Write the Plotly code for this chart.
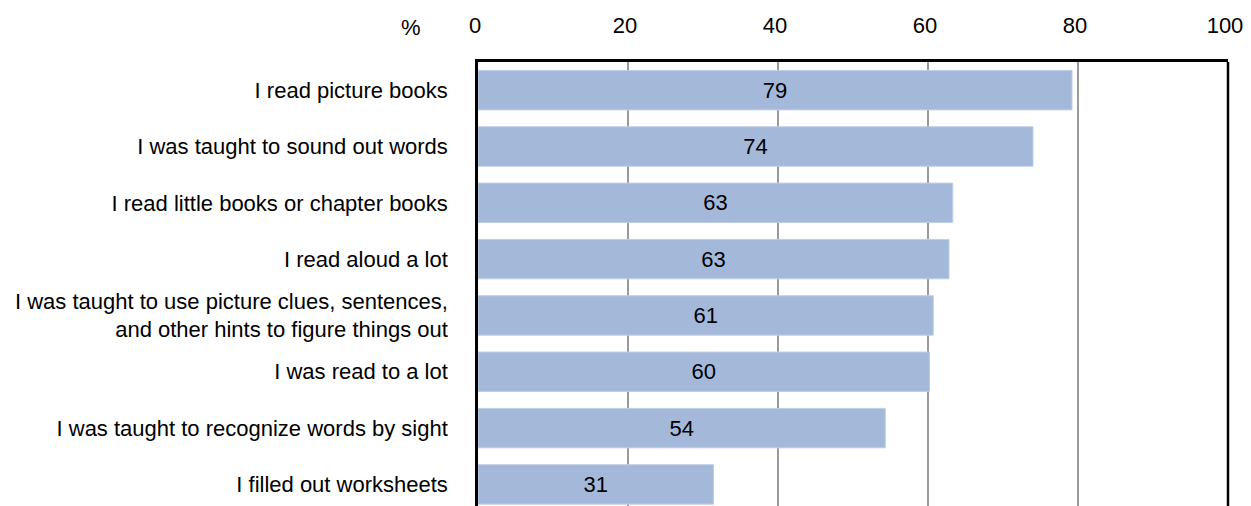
import plotly.graph_objects as go

# survey answers, top to bottom
categories = [
    "I read picture books",
    "I was taught to sound out words",
    "I read little books or chapter books",
    "I read aloud a lot",
    "I was taught to use picture clues, sentences,<br>and other hints to figure things out",
    "I was read to a lot",
    "I was taught to recognize words by sight",
    "I filled out worksheets",
]
percent = [79.2, 74.0, 63.3, 62.8, 60.7, 60.2, 54.3, 31.4]
x_ticks = [0, 20, 40, 60, 80, 100]

font = "Liberation Sans, Arial, sans-serif"

fig = go.Figure()
fig.add_trace(go.Bar(
    y=categories, x=percent, orientation="h",
    marker=dict(color="#a4b9d9", line=dict(color="#bfcde6", width=1)),
    texttemplate="%{x:.0f}", textposition="inside", insidetextanchor="middle",
    textfont=dict(family=font, size=22, color="black"),
    showlegend=False,
))

fig.update_xaxes(
    side="top", range=[0, 100], tickvals=x_ticks,
    showgrid=True, gridcolor="#9a9a9a", gridwidth=1.5,
    showline=True, linecolor="black", linewidth=2.5,
    zeroline=False, ticks="", ticklabelstandoff=17,
    ticklabelshift=-3, ticklabeloverflow="allow", automargin=False,
    tickfont=dict(family=font, size=22, color="black"),
    fixedrange=True,
)
# bottom of the chart is cut off in the original, so the range stops short
fig.update_yaxes(
    autorange=False, range=[7.383, -0.5],
    showgrid=False, zeroline=False,
    showline=True, linecolor="black", linewidth=2.5,
    ticks="", ticklabelstandoff=23,
    tickfont=dict(family=font, size=22, color="black"),
    fixedrange=True,
)

# right border of the plot box
fig.add_shape(type="line", xref="paper", yref="paper", x0=1, x1=1, y0=0, y1=1,
              line=dict(color="black", width=2.5))

fig.add_annotation(text="%", xref="paper", yref="paper", x=-0.09, y=1.0766,
                   xanchor="center", yanchor="middle", showarrow=False,
                   font=dict(family=font, size=22, color="black"))

fig.update_layout(
    width=1243, height=506,
    margin=dict(l=478, r=15, t=62, b=0),
    bargap=0.3,
    plot_bgcolor="white", paper_bgcolor="white",
    font=dict(family=font, size=22, color="black"),
)

# drop the default 8px page margin so the figure sits at the window corner
fig.write_html("out.html", config={"displayModeBar": False},
               post_script="document.body.style.margin='0';")
